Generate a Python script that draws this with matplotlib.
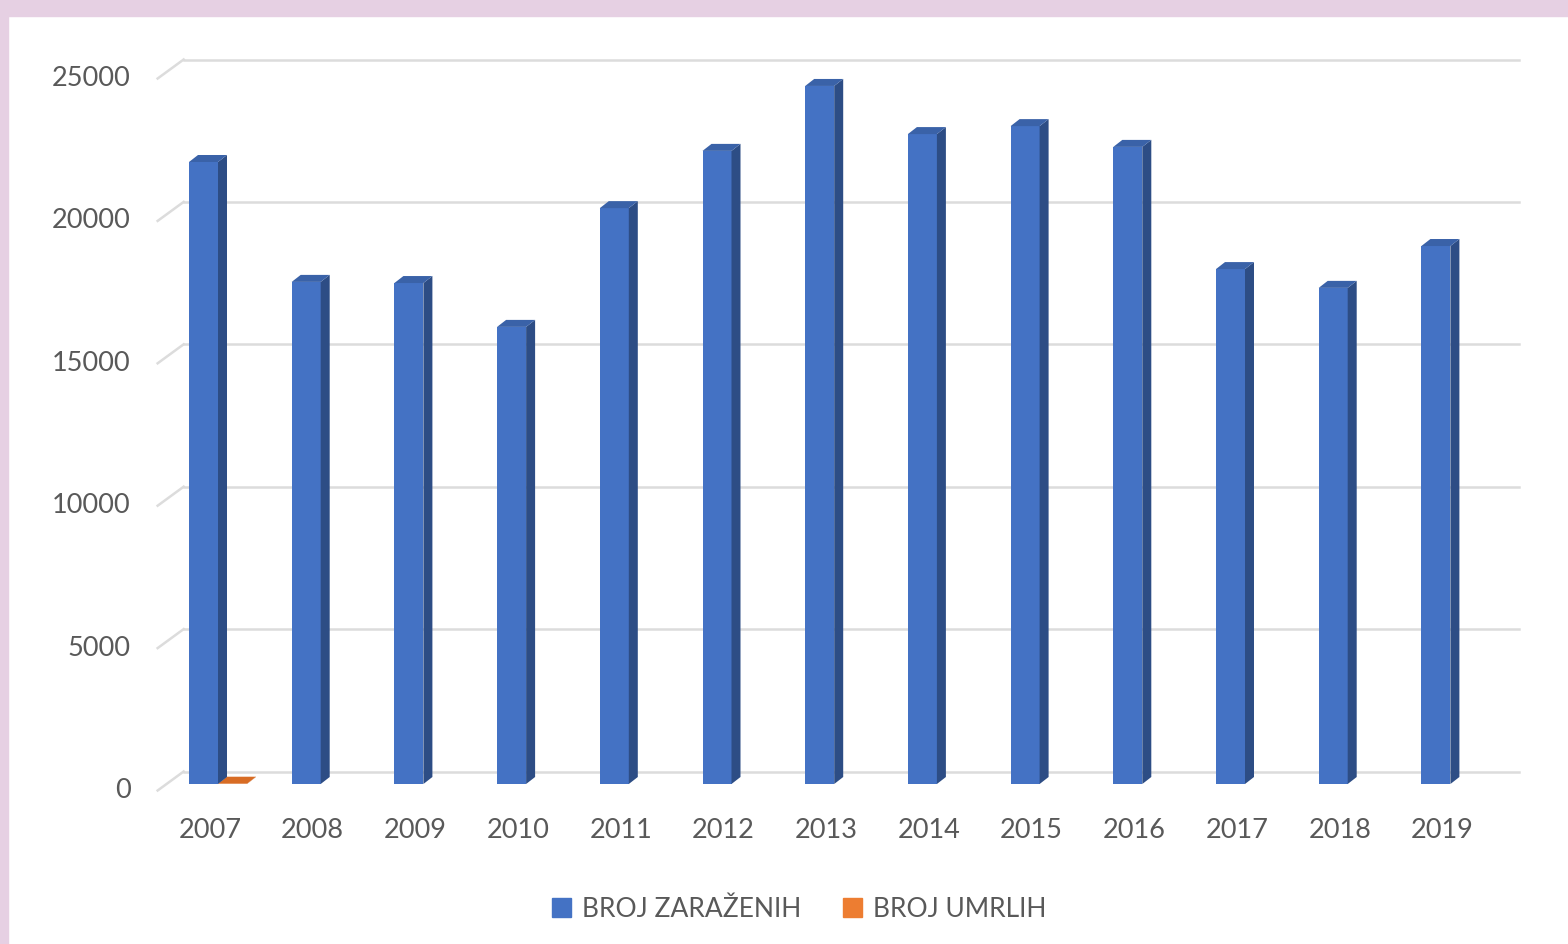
import numpy as np
import matplotlib.pyplot as plt
from matplotlib.patches import Polygon, Rectangle, Patch
from matplotlib.transforms import ScaledTranslation

plt.rcParams["font.family"] = ["Lato", "DejaVu Sans"]

# podaci
godine = ["2007", "2008", "2009", "2010", "2011", "2012", "2013",
          "2014", "2015", "2016", "2017", "2018", "2019"]
zarazeni = [21840, 17630, 17590, 16050, 20220, 22230, 24510,
            22820, 23100, 22370, 18080, 17420, 18890]
umrli = [10, None, None, None, None, None, None,
         None, None, None, None, None, None]
y_ticks = [0, 5000, 10000, 15000, 20000, 25000]

plavo = ("#4472c4", "#2d4d85", "#3a62a8")       # prednja, bok, vrh
narancasto = ("#ed7d31", "#b85f22", "#d86c24")
siva_tekst = "#595959"
siva_mreza = "#dcdcdc"

W, H, DPI = 1568, 945, 100
fig = plt.figure(figsize=(W / DPI, H / DPI), dpi=DPI)
fig.patch.set_facecolor("white")

# ruzicasti okvir (gore i lijevo)
ruza = "#e6d0e3"
fig.patches.append(Rectangle((0, 1 - 17 / H), 1, 17 / H, transform=fig.transFigure,
                             color=ruza, zorder=0))
fig.patches.append(Rectangle((0, 0), 8 / W, 1, transform=fig.transFigure,
                             color=ruza, zorder=0))

ax = fig.add_axes([166.65 / W, 160 / H, 1335.1 / W, 712 / H])
ax.set_facecolor("none")
n = len(godine)
ax.set_xlim(-0.5, n - 0.5)
ax.set_ylim(0, 25000)
for s in ax.spines.values():
    s.set_visible(False)

def pomak(dx, dy):
    return ax.transData + ScaledTranslation(dx / DPI, dy / DPI, fig.dpi_scale_trans)

straznja = pomak(17, 12.5)
prednja = (-9, 6.5)

# mreza na straznjem zidu + dijagonale lijevo
for v in y_ticks:
    ax.plot([-0.5, n - 0.5], [v, v], color=siva_mreza, lw=1.8,
            transform=straznja, clip_on=False, zorder=1)
    p0 = ax.transData.transform((-0.5, v))
    a = (p0[0] + prednja[0], p0[1] - prednja[1])
    b = (p0[0] + 17, p0[1] + 12.5)
    ax.plot([a[0], b[0]], [a[1], b[1]], color=siva_mreza, lw=1.8,
            transform=None, clip_on=False, zorder=1)

# 3D stupci
px_x = 1335.1 / n
px_y = 712 / 25000
dxd = 9 / px_x
dyd = 7 / px_y
w = 29 / px_x

def stupac(x0, v, boje):
    x1 = x0 + w
    ax.add_patch(Rectangle((x0, 0), w, v, facecolor=boje[0], edgecolor="none",
                           zorder=3, clip_on=False))
    ax.add_patch(Polygon([(x1, 0), (x1, v), (x1 + dxd, v + dyd), (x1 + dxd, dyd)],
                         closed=True, facecolor=boje[1], edgecolor="none",
                         zorder=3, clip_on=False))
    ax.add_patch(Polygon([(x0, v), (x1, v), (x1 + dxd, v + dyd), (x0 + dxd, v + dyd)],
                         closed=True, facecolor=boje[2], edgecolor="none",
                         zorder=3, clip_on=False))

for i in range(n):
    if umrli[i] is not None:
        stupac(i, umrli[i], narancasto)
    stupac(i - w, zarazeni[i], plavo)

# osi
ax.set_yticks(y_ticks)
ax.set_yticklabels([str(v) for v in y_ticks])
ax.set_xticks(range(n))
ax.set_xticklabels(godine)
ax.tick_params(axis="y", length=0, pad=26, labelsize=19.5, labelcolor=siva_tekst)
ax.tick_params(axis="x", length=0, pad=24, labelsize=19.5, labelcolor=siva_tekst)
for lab in ax.get_yticklabels():
    lab.set_transform(lab.get_transform() + ScaledTranslation(0, -3 / DPI, fig.dpi_scale_trans))
for lab in ax.get_xticklabels():
    lab.set_transform(lab.get_transform() + ScaledTranslation(-8 / DPI, 0, fig.dpi_scale_trans))

# legenda
fig.legend(handles=[Patch(color=plavo[0], label="BROJ ZARAŽENIH"),
                    Patch(color=narancasto[0], label="BROJ UMRLIH")],
           loc="center", bbox_to_anchor=(799 / W, 1 - 910 / H), ncol=2,
           frameon=False, fontsize=19, handlelength=0.72, handleheight=0.72,
           handletextpad=0.4, columnspacing=1.6, labelcolor=siva_tekst)

fig.savefig("out.png", dpi=DPI)
